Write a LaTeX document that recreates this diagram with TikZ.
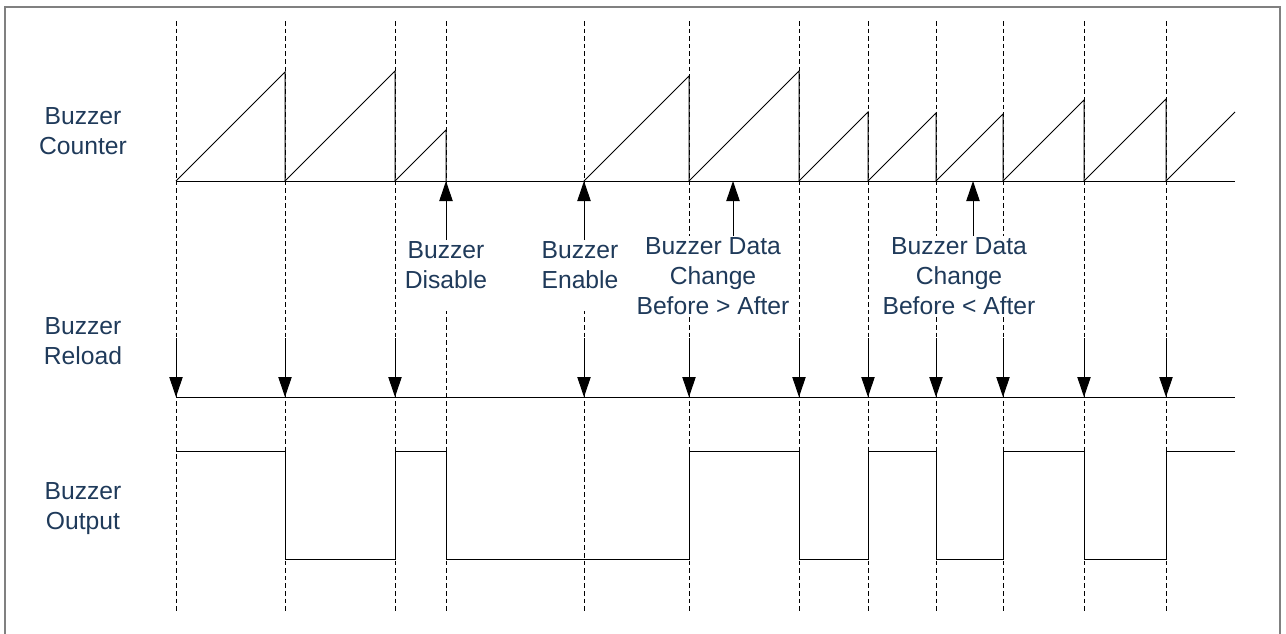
\documentclass[tikz,border=0pt]{standalone}
\usepackage{fontspec}
\setmainfont{Liberation Sans}
\usepackage{tikz}
\usetikzlibrary{arrows.meta,calc}
\definecolor{labelblue}{HTML}{1F3A5A}

\begin{document}
\begin{tikzpicture}[x=0.75pt,y=0.75pt,yscale=-1,xscale=1,
    sig/.style={line width=0.75pt},
    guide/.style={line width=0.7pt,dash pattern=on 3.5pt off 2.2pt},
    evarrow/.style={line width=0.75pt,-{Triangle[length=15pt,width=10pt]}},
    siglabel/.style={font=\fontsize{18.5}{22.5}\selectfont,text=labelblue,align=center,inner sep=1pt},
    evlabel/.style={siglabel,fill=white,anchor=north}]
  \useasboundingbox (0,0) rectangle (1286,633);
  %frame
  \draw[gray,line width=1.5pt] (5,640) -- (5,7) -- (1280,7) -- (1280,640);
  %guide lines
  \foreach \x in {176,285,395,446,584,689,799,868,936,1003,1084,1166}
    \draw[guide] (\x,21) -- (\x,613);
  % signal names
  \node[siglabel] (cnt) at (83,131) {Buzzer\\Counter};
  \node[siglabel] (rld) at (83,341) {Buzzer\\Reload};
  \node[siglabel] (out) at (83,509) {Buzzer\\Output};
  % event names
  \node[evlabel,text depth=16pt] (dis) at (446,240) {Buzzer\\Disable};
  \node[evlabel,text depth=16pt] (ena) at (580,240) {Buzzer\\Enable};
  \node[evlabel] (dchg1) at (713,236) {Buzzer Data\\Change\\Before > After};
  \node[evlabel] (dchg2) at (959,236) {Buzzer Data\\Change\\Before < After};
  %counter
  \coordinate (cs) at (176,181);
  \coordinate (ce) at (1235,181);
  \draw[sig] (cs) -- (ce);
  \foreach \a/\b in {176/285,285/395,395/446,584/689,689/799,799/868,868/936,936/1003,1003/1084,1084/1166}
    \draw[sig] (\a,181) -- (\b,{181-(\b-\a)}) -- (\b,181);
  \draw[sig] (1166,181) -- (1235,112);
  % events on the counter
  \coordinate (pdis) at (446,181);
  \coordinate (pena) at (584,181);
  \coordinate (pdc1) at (733,181);
  \coordinate (pdc2) at (973,181);
  \draw[evarrow] (pdis |- dis.north) -- (pdis);
  \draw[evarrow] (pena |- ena.north) -- (pena);
  \draw[evarrow] (pdc1 |- dchg1.north) -- (pdc1);
  \draw[evarrow] (pdc2 |- dchg2.north) -- (pdc2);
  %reload
  \coordinate (rs) at (176,397);
  \coordinate (re) at (1235,397);
  \draw[sig] (rs) -- (re);
  \foreach \x [count=\i] in {176,285,395,584,689,799,868,936,1003,1084,1166} {
    \coordinate (rt\i) at (\x,338);
    \coordinate (rh\i) at (\x,397);
    \draw[evarrow] (rt\i) -- (rh\i);
  }
  %output
  \draw[sig] (176,451) -- (285,451) -- (285,559) -- (395,559) -- (395,451) -- (446,451) -- (446,559)
    -- (689,559) -- (689,451) -- (799,451) -- (799,559) -- (868,559) -- (868,451) -- (936,451)
    -- (936,559) -- (1003,559) -- (1003,451) -- (1084,451) -- (1084,559) -- (1166,559) -- (1166,451) -- (1235,451);
\end{tikzpicture}
\end{document}
